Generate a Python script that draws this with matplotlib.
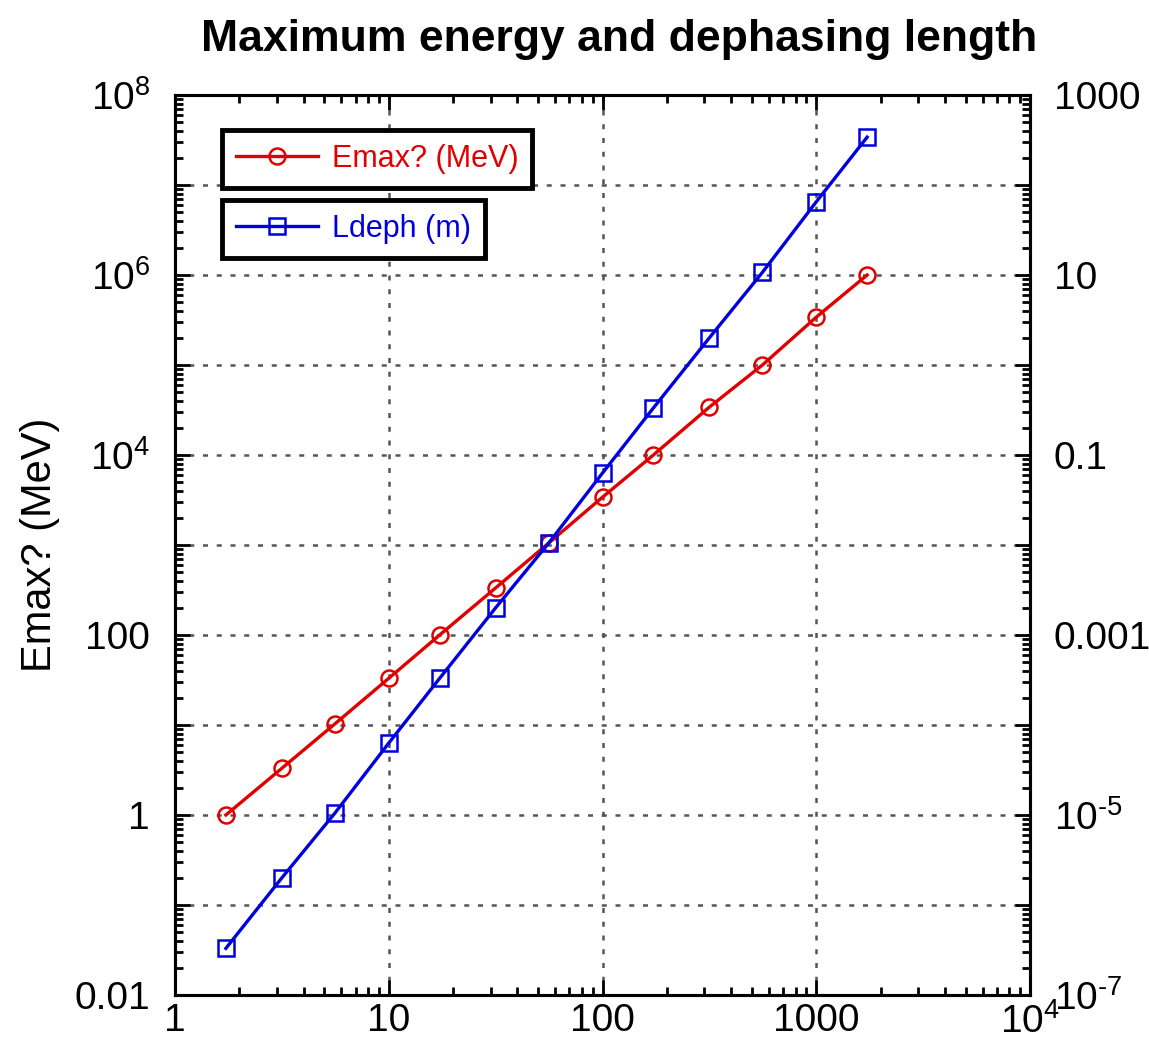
import matplotlib.pyplot as plt
import numpy as np
from matplotlib.ticker import LogLocator, FixedLocator, FixedFormatter, NullFormatter

plt.rcParams['font.family'] = ['Liberation Sans', 'DejaVu Sans']
plt.rcParams['mathtext.fontset'] = 'custom'
plt.rcParams['mathtext.rm'] = 'Liberation Sans'
plt.rcParams['mathtext.it'] = 'Liberation Sans:italic'
plt.rcParams['mathtext.bf'] = 'Liberation Sans:bold'

# values
x_vals = [1.73, 3.16, 5.6, 10.0, 17.3, 31.6, 56.0, 100.0, 173.0, 316.0, 560.0, 1000.0, 1730.0]
emax_mev = [1.0, 3.3, 10.3, 33.0, 100.0, 333.0, 1050.0, 3400.0, 1.0e4, 3.4e4, 1.0e5, 3.4e5, 1.0e6]
ldeph_m = [3.3e-7, 2.0e-6, 1.05e-5, 6.3e-5, 3.3e-4, 2.0e-3, 1.05e-2, 6.3e-2, 0.333, 2.0, 10.7, 65.0, 340.0]

x_ticks = [1, 10, 100, 1000, 1e4]
x_labels = ['1', '10', '100', '1000', '10$^{4}$']
left_ticks = [1e-2, 1, 100, 1e4, 1e6, 1e8]
left_labels = ['0.01', '1', '100', '10$^{4}$', '10$^{6}$', '10$^{8}$']
right_ticks = [1e-7, 1e-5, 1e-3, 1e-1, 10, 1000]
right_labels = ['10$^{\\text{-}7}$', '10$^{\\text{-}5}$', '0.001', '0.1', '10', '1000']

fig = plt.figure(figsize=(11.49, 10.44), dpi=100)
ax = fig.add_axes([175 / 1149, 1 - 995 / 1044, 855 / 1149, 900 / 1044])
ax2 = ax.twinx()

red = '#e00000'
blue = '#0000dd'

l1, = ax.plot(x_vals, emax_mev, color=red, lw=2.4, marker='o', ms=11.5, mfc='none',
              mec=red, mew=1.8, label='Emax? (MeV)')
l2, = ax2.plot(x_vals, ldeph_m, color=blue, lw=2.4, marker='s', ms=11.5, mfc='none',
               mec=blue, mew=1.8, label='Ldeph (m)')

for a in (ax, ax2):
    a.set_xscale('log')
    a.set_yscale('log')
ax.set_xlim(1, 1e4)
ax.set_ylim(1e-2, 1e8)
ax2.set_ylim(1e-7, 1e3)

# ticks
ax.xaxis.set_major_locator(FixedLocator(x_ticks))
ax.xaxis.set_major_formatter(FixedFormatter(x_labels))
ax.xaxis.set_minor_locator(LogLocator(base=10, subs=np.arange(2, 10), numticks=20))
ax.xaxis.set_minor_formatter(NullFormatter())

ax.yaxis.set_major_locator(FixedLocator([10.0 ** k for k in range(-2, 9)]))
ax.yaxis.set_major_formatter(FixedFormatter(
    [left_labels[left_ticks.index(10.0 ** k)] if k % 2 == 0 else '' for k in range(-2, 9)]))
ax.yaxis.set_minor_locator(LogLocator(base=10, subs=np.arange(2, 10), numticks=20))
ax.yaxis.set_minor_formatter(NullFormatter())

ax2.yaxis.set_major_locator(FixedLocator([10.0 ** k for k in range(-7, 4)]))
ax2.yaxis.set_major_formatter(FixedFormatter(
    [right_labels[right_ticks.index(10.0 ** k)] if k % 2 == 1 else '' for k in range(-7, 4)]))
ax2.yaxis.set_minor_locator(LogLocator(base=10, subs=np.arange(2, 10), numticks=20))
ax2.yaxis.set_minor_formatter(NullFormatter())

ax.tick_params(which='both', direction='in', top=True, labelsize=28, width=2)
ax.tick_params(which='major', length=11)
ax.tick_params(which='minor', length=6)
ax.tick_params(axis='x', pad=6)
ax.tick_params(axis='y', left=True, right=False, pad=18)
ax2.tick_params(which='both', direction='in', labelsize=28, width=2, pad=17)
ax2.tick_params(which='major', length=11)
ax2.tick_params(which='minor', length=6)

ax.grid(True, which='major', linestyle=(0, (2, 3.5)), color='#555555', lw=1.8)

for a in (ax, ax2):
    for s in a.spines.values():
        s.set_linewidth(2.2)

ax.set_ylabel('Emax? (MeV)', fontsize=30, labelpad=10)
ax.set_title('Maximum energy and dephasing length', fontsize=32, fontweight='bold',
             pad=32, x=0.52)

leg1 = ax2.legend(handles=[l1], loc='upper left', bbox_to_anchor=(0.055, 0.961),
                  borderaxespad=0, fontsize=22, fancybox=False, framealpha=1,
                  edgecolor='black', labelcolor=red, handlelength=2.7, borderpad=0.45,
                  handletextpad=0.45)
leg1.get_frame().set_linewidth(3.5)
ax2.add_artist(leg1)
leg2 = ax2.legend(handles=[l2], loc='upper left', bbox_to_anchor=(0.055, 0.883),
                  borderaxespad=0, fontsize=22, fancybox=False, framealpha=1,
                  edgecolor='black', labelcolor=blue, handlelength=2.7, borderpad=0.45,
                  handletextpad=0.45)
leg2.get_frame().set_linewidth(3.5)

fig.savefig('out.png', dpi=100)
